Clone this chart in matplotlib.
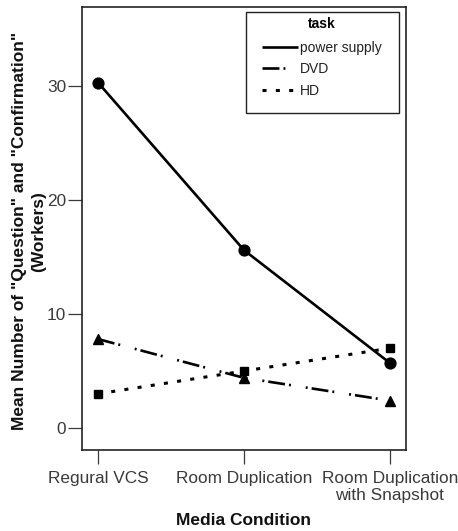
import matplotlib
matplotlib.use("Agg")
import matplotlib.pyplot as plt
from matplotlib.patches import Rectangle

conditions = ["Regural VCS", "Room Duplication", "Room Duplication\nwith Snapshot"]
power_supply = [30.3, 15.6, 5.7]
dvd = [7.8, 4.4, 2.4]
hd = [3.0, 5.0, 7.0]
yticks = [0, 10, 20, 30]

plt.rcParams['font.family'] = ['Liberation Sans', 'DejaVu Sans']
plt.rcParams['lines.scale_dashes'] = False

fig = plt.figure(figsize=(4.58, 5.31), dpi=100)
ax = fig.add_axes([82/458, 1-450/531, 324/458, 443/531])

x = list(range(len(conditions)))
ax.plot(x, power_supply, color='black', lw=1.9, marker='o', markersize=7.8,
        label='power supply', solid_capstyle='butt')
l_dvd, = ax.plot(x, dvd, color='black', lw=1.9, marker='^', markersize=7.5,
                 label='DVD', dash_capstyle='butt')
l_dvd.set_linestyle((0, (12.2, 2.9, 1.4, 10.8, 1.4, 2.9)))
l_hd, = ax.plot(x, hd, color='black', lw=2.2, marker='s', markersize=5.8,
                label='HD', dash_capstyle='butt')
l_hd.set_linestyle((0, (2.9, 6.7)))

ax.set_xlim(-0.11, 2.11)
ax.set_ylim(-1.93, 36.93)
ax.set_xticks(x)
ax.set_xticklabels(conditions)
ax.set_yticks(yticks)

tc = '#3a3a3a'
for s in ax.spines.values():
    s.set_linewidth(1.2)
    s.set_color('#222222')
ax.tick_params(axis='both', direction='out', length=10, width=0.9, color=tc,
               labelsize=12.4, labelcolor=tc)
ax.tick_params(axis='y', pad=1.5)
ax.tick_params(axis='x', pad=5)

ax.set_ylabel('Mean Number of "Question" and "Confirmation"\n(Workers)',
              fontsize=12.5, fontweight='bold', color='#111111', linespacing=1.3)
ax.yaxis.set_label_coords(-0.111, 0.494)
ax.set_xlabel('Media Condition', fontsize=12.5, fontweight='bold', color='#111111')
ax.xaxis.set_label_coords(0.5, -0.142)

leg = ax.legend(loc='upper left', bbox_to_anchor=((262-82)/324, (450-17)/443),
                frameon=False, fontsize=10, title='task',
                title_fontproperties={'weight': 'bold', 'size': 10},
                handlelength=2.6, handletextpad=0.15, borderpad=0,
                labelspacing=0.55, borderaxespad=0)
leg._legend_box.sep = 7
for t in leg.get_texts():
    t.set_color('#222222')
for h in leg.get_lines():
    h.set_marker('')

ax.add_patch(Rectangle(((246-82)/324, (450-113)/443), (399-246)/324, (113-12)/443,
                       transform=ax.transAxes, fill=False, lw=1.0,
                       edgecolor='#222222', zorder=5))

fig.savefig('out.png', dpi=100)
